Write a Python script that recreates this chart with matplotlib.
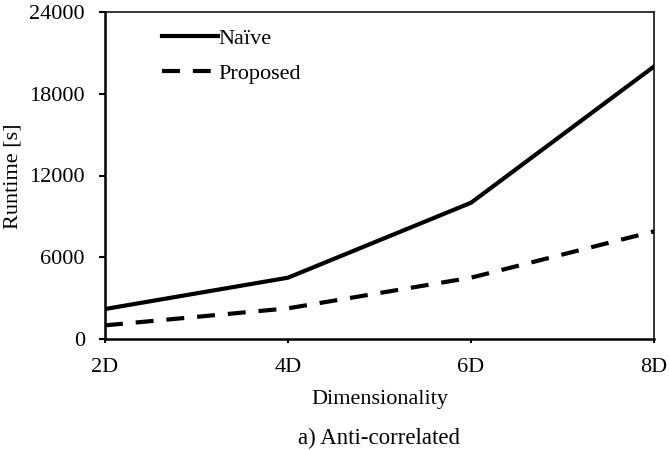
import matplotlib
matplotlib.use("Agg")
import matplotlib.pyplot as plt

categories = ["2D", "4D", "6D", "8D"]
naive = [2200, 4500, 10000, 20000]
proposed = [1000, 2250, 4500, 7900]
y_ticks = [0, 6000, 12000, 18000, 24000]

plt.rcParams["font.family"] = ["Liberation Serif", "DejaVu Serif"]
plt.rcParams["font.size"] = 16

W, H = 669, 450
fig = plt.figure(figsize=(W / 100, H / 100), dpi=100)
# axes box in pixels: left 105, right 654, top 12, bottom 339
ax = fig.add_axes([105 / W, 1 - 339 / H, (654 - 105) / W, (339 - 12) / H])

x = range(len(categories))
ax.plot(x, naive, color="black", linewidth=3, label="Naïve")
ax.plot(x, proposed, color="black", linewidth=3, dashes=(4.3, 3.1), label="Proposed")

ax.set_xlim(0, len(categories) - 1)
ax.set_ylim(0, 24000)
ax.set_xticks(list(x))
ax.set_xticklabels(categories)
ax.set_yticks(y_ticks)
ax.set_yticklabels([str(v) for v in y_ticks])

for side in ["left", "bottom"]:
    ax.spines[side].set_linewidth(1.8)
for side in ["top", "right"]:
    ax.spines[side].set_linewidth(1.1)
ax.tick_params(axis="y", direction="out", length=4.5, width=1.5, labelsize=16, pad=10)
ax.tick_params(axis="x", direction="out", length=3, width=1.5, labelsize=16, pad=11)

# axis labels and caption
fig.text(379.5 / W, 1 - 404 / H, "Dimensionality", ha="center", va="baseline", fontsize=16)
fig.text(379.5 / W, 1 - 444 / H, "a) Anti-correlated", ha="center", va="baseline", fontsize=16.5)
fig.text(13 / W, 1 - 176 / H, "Runtime [s]", ha="center", va="center", rotation=90, fontsize=16)

ax.legend(loc="upper left", bbox_to_anchor=(162 / W, 1 - 28 / H), bbox_transform=fig.transFigure,
          frameon=False, fontsize=16, handlelength=2.5, handletextpad=0.05,
          labelspacing=0.68, borderpad=0, borderaxespad=0)

fig.savefig("out.png", dpi=100)
